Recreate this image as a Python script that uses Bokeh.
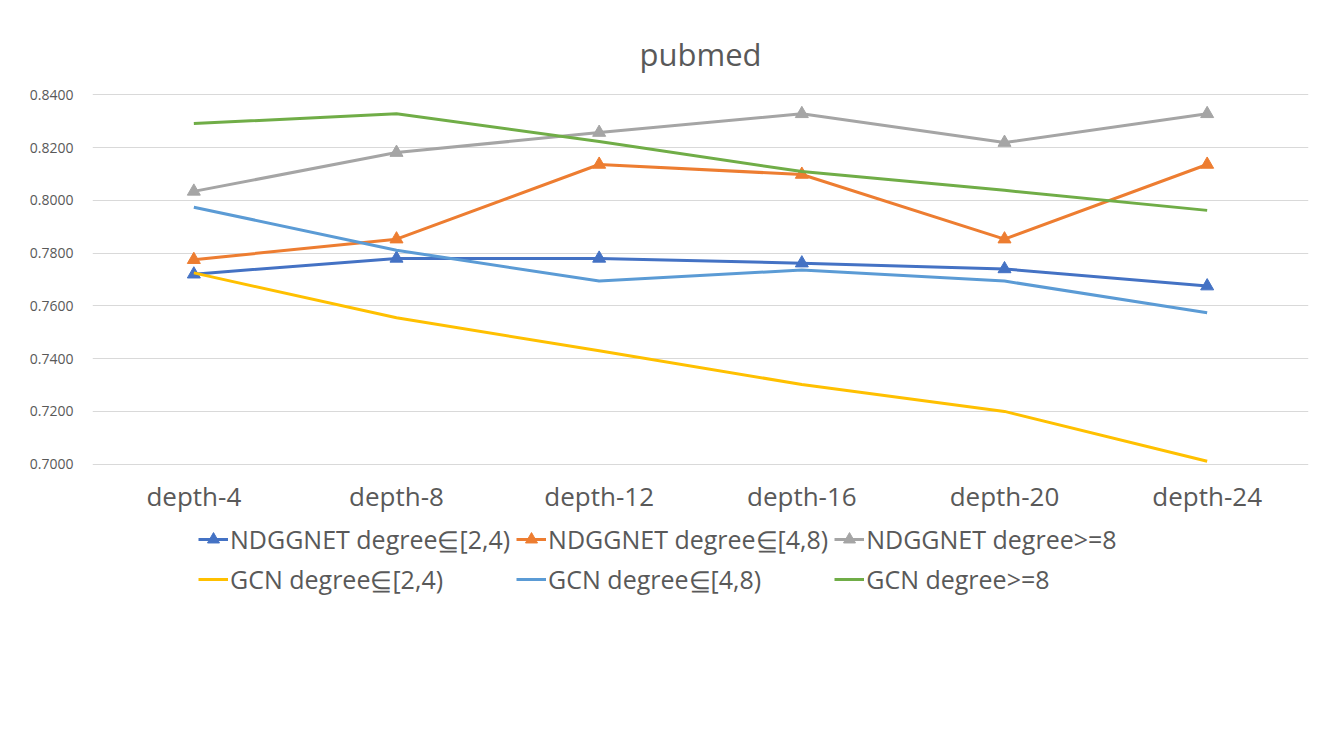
from bokeh.plotting import figure
from bokeh.layouts import column
from bokeh.models import Range1d, FixedTicker, NumeralTickFormatter, Legend, LegendItem
from bokeh.embed import file_html
from bokeh.resources import INLINE

categories = ["depth-4", "depth-8", "depth-12", "depth-16", "depth-20", "depth-24"]

ndg_2_4 = [0.7720, 0.7780, 0.7780, 0.7762, 0.7740, 0.7675]
ndg_4_8 = [0.7775, 0.7853, 0.8136, 0.8098, 0.7853, 0.8136]
ndg_8 = [0.8034, 0.8181, 0.8257, 0.8328, 0.8219, 0.8328]
gcn_2_4 = [0.7725, 0.7555, 0.7430, 0.7302, 0.7200, 0.7011]
gcn_4_8 = [0.7974, 0.7811, 0.7694, 0.7736, 0.7694, 0.7574]
gcn_8 = [0.8291, 0.8328, 0.8223, 0.8109, 0.8038, 0.7962]

y_ticks = [0.70, 0.72, 0.74, 0.76, 0.78, 0.80, 0.82, 0.84]

labels = [
    "NDGGNET degree\u22f8[2,4)",
    "NDGGNET degree\u22f8[4,8)",
    "NDGGNET degree>=8",
    "GCN degree\u22f8[2,4)",
    "GCN degree\u22f8[4,8)",
    "GCN degree>=8",
]
colors = ["#4472C4", "#ED7D31", "#A5A5A5", "#FFC000", "#5B9BD5", "#70AD47"]
series = [ndg_2_4, ndg_4_8, ndg_8, gcn_2_4, gcn_4_8, gcn_8]
has_marker = [True, True, True, False, False, False]

FONT = "Open Sans"
TXT = "#595959"

p = figure(frame_width=1216, frame_height=372, x_range=categories,
           y_range=Range1d(0.6995, 0.8405),
           output_backend="svg", toolbar_location=None,
           min_border_left=92, min_border_right=28,
           min_border_top=93, min_border_bottom=55)

p.title.text = "pubmed"
p.title.align = "center"
p.title.text_font = FONT
p.title.text_font_size = "31px"
p.title.text_font_style = "normal"
p.title.text_color = TXT
p.title.standoff = 38

p.outline_line_color = None
p.xgrid.grid_line_color = None
p.ygrid.grid_line_color = "#D9D9D9"
p.ygrid.grid_line_width = 1
p.yaxis.ticker = FixedTicker(ticks=y_ticks)
p.yaxis.formatter = NumeralTickFormatter(format="0.0000")

for ax in (p.xaxis, p.yaxis):
    ax.axis_line_color = None
    ax.major_tick_line_color = None
    ax.minor_tick_line_color = None
    ax.major_tick_out = 0
    ax.major_tick_in = 0
    ax.minor_tick_out = 0
    ax.major_label_text_font = FONT
    ax.major_label_text_color = TXT

p.yaxis.major_label_text_font_size = "14px"
p.yaxis.major_label_standoff = 19
p.xaxis.major_label_text_font_size = "26px"
p.xaxis.major_label_standoff = 12

# second figure that only carries the legend (its ranges keep the copies of
# the series out of view, so only the legend entries show)
lg = figure(width=1336, height=110, x_range=categories,
            y_range=Range1d(10, 11), x_axis_type=None, y_axis_type=None,
            output_backend="svg", toolbar_location=None,
            min_border=0)
lg.outline_line_color = None
lg.xgrid.grid_line_color = None
lg.ygrid.grid_line_color = None

items = []
for lab, col, ys, mk in zip(labels, colors, series, has_marker):
    p.line(categories, ys, line_color=col, line_width=3)
    rs = [lg.line(categories, ys, line_color=col, line_width=3)]
    if mk:
        p.scatter(categories, ys, marker="triangle", size=13,
                  fill_color=col, line_color=col)
        rs.append(lg.scatter(categories, ys, marker="triangle", size=13,
                             fill_color=col, line_color=col))
    items.append(LegendItem(label=lab, renderers=rs))

legend = Legend(items=items, ncols=3, orientation="horizontal",
                location=(106, 34), padding=0, margin=0, spacing=6,
                glyph_width=30, glyph_height=32, label_height=32,
                label_standoff=2, label_text_font=FONT,
                label_text_font_size="25px", label_text_color=TXT,
                border_line_color=None, background_fill_alpha=0)
lg.add_layout(legend, "center")

layout = column(p, lg, spacing=0)
open("out.html", "w").write(file_html(layout, INLINE))
